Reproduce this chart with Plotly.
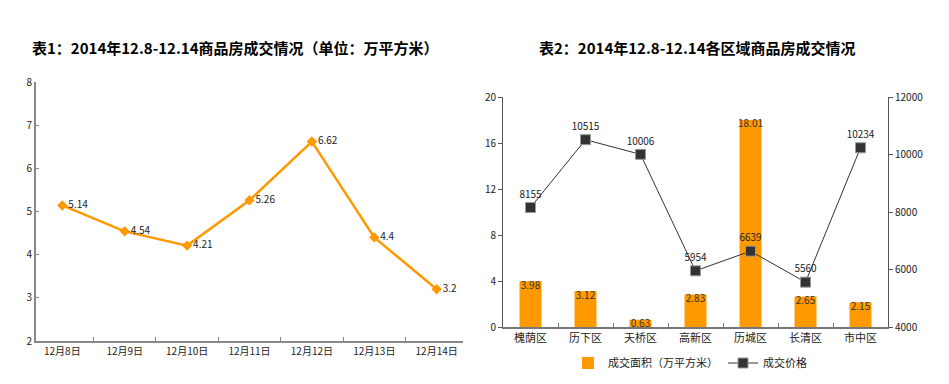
import plotly.graph_objects as go

# ---- data ----
days = ["12月8日", "12月9日", "12月10日", "12月11日", "12月12日", "12月13日", "12月14日"]
day_area = [5.14, 4.54, 4.21, 5.26, 6.62, 4.4, 3.2]
day_labels = ["5.14", "4.54", "4.21", "5.26", "6.62", "4.4", "3.2"]

districts = ["槐荫区", "历下区", "天桥区", "高新区", "历城区", "长清区", "市中区"]
dist_area = [3.98, 3.12, 0.63, 2.83, 18.01, 2.65, 2.15]
dist_area_labels = ["3.98", "3.12", "0.63", "2.83", "18.01", "2.65", "2.15"]
dist_price = [8155, 10515, 10006, 5954, 6639, 5560, 10234]

title1 = "表1：2014年12.8-12.14商品房成交情况（单位：万平方米）"
title2 = "表2：2014年12.8-12.14各区域商品房成交情况"

ORANGE = "#FF9900"
DARK = "#333333"
FONT = "Noto Sans CJK SC"
W, H = 949, 384
OFF = 8  # page body margin offset

def px(x):
    return (x - OFF) / W

def py(y):
    return 1 - (y - OFF) / H

fig = go.Figure()

# left chart
fig.add_trace(go.Scatter(
    x=days, y=day_area, mode="lines+markers+text",
    line=dict(color=ORANGE, width=2.5),
    marker=dict(symbol="diamond", size=8, color=ORANGE),
    text=day_labels, textposition="middle right",
    textfont=dict(family=FONT, size=10, color="#222"),
    xaxis="x", yaxis="y", showlegend=False, cliponaxis=False,
))

# right chart bars
fig.add_trace(go.Bar(
    x=districts, y=dist_area, name="成交面积（万平方米）",
    marker=dict(color=ORANGE, line=dict(width=0)),
    width=0.4,
    xaxis="x2", yaxis="y2",
))
# bar value labels just below each bar top
fig.add_trace(go.Scatter(
    x=districts, y=dist_area, mode="text",
    text=dist_area_labels, textposition="bottom center",
    textfont=dict(family=FONT, size=10, color="#333"),
    xaxis="x2", yaxis="y2", showlegend=False, cliponaxis=False,
    hoverinfo="skip",
))

# right chart price line
fig.add_trace(go.Scatter(
    x=districts, y=dist_price, name="成交价格",
    mode="lines+markers+text",
    line=dict(color=DARK, width=1),
    marker=dict(symbol="square", size=10, color=DARK, line=dict(color="#999", width=1)),
    text=[str(v) for v in dist_price], textposition="top center",
    textfont=dict(family=FONT, size=10, color="#222"),
    xaxis="x2", yaxis="y3", cliponaxis=False,
))

axis_common = dict(showgrid=False, zeroline=False, showline=True, automargin=False,
                   tickfont=dict(family=FONT, size=10, color="#222"))

fig.update_layout(
    width=W, height=H,
    margin=dict(l=0, r=0, t=0, b=0, pad=0, autoexpand=False),
    paper_bgcolor="white", plot_bgcolor="white",
    font=dict(family=FONT, color="#222"),
    xaxis=dict(domain=[px(36), px(463)], type="category",
               ticks="inside", tickson="boundaries", ticklen=4,
               linecolor="#888", linewidth=2, tickcolor="#888",
               anchor="y", **axis_common),
    yaxis=dict(domain=[py(341), py(82)], range=[2, 8], dtick=1,
               ticks="inside", ticklen=3,
               linecolor="#888", linewidth=2, tickcolor="#888",
               anchor="x", **axis_common),
    xaxis2=dict(domain=[px(503), px(888)], type="category",
                ticks="inside", tickson="boundaries", ticklen=4,
                linecolor="#777", linewidth=1.5, tickcolor="#777",
                anchor="y2", **{**axis_common, "tickfont": dict(family=FONT, size=11, color="#222")}),
    yaxis2=dict(domain=[py(327), py(97)], range=[0, 20], dtick=4,
                ticks="outside", ticklen=4,
                linecolor="#555", linewidth=1, tickcolor="#555",
                anchor="x2", **axis_common),
    yaxis3=dict(range=[4000, 12000], dtick=2000, overlaying="y2", side="right",
                tickformat="d",
                ticks="outside", ticklen=4,
                linecolor="#555", linewidth=1, tickcolor="#555",
                anchor="x2", **axis_common),
    legend=dict(orientation="h", x=px(690), xanchor="center", y=py(363), yanchor="middle",
                font=dict(family=FONT, size=11, color="#222"),
                itemwidth=30, bgcolor="rgba(0,0,0,0)"),
    annotations=[
        dict(text=f"<b>{title1}</b>", x=px(235), y=py(48), xref="paper", yref="paper",
             showarrow=False, xanchor="center", yanchor="middle",
             font=dict(family=FONT, size=15, color="#000")),
        dict(text=f"<b>{title2}</b>", x=px(697), y=py(48), xref="paper", yref="paper",
             showarrow=False, xanchor="center", yanchor="middle",
             font=dict(family=FONT, size=15, color="#000")),
    ],
)

fig.write_html("out.html")
